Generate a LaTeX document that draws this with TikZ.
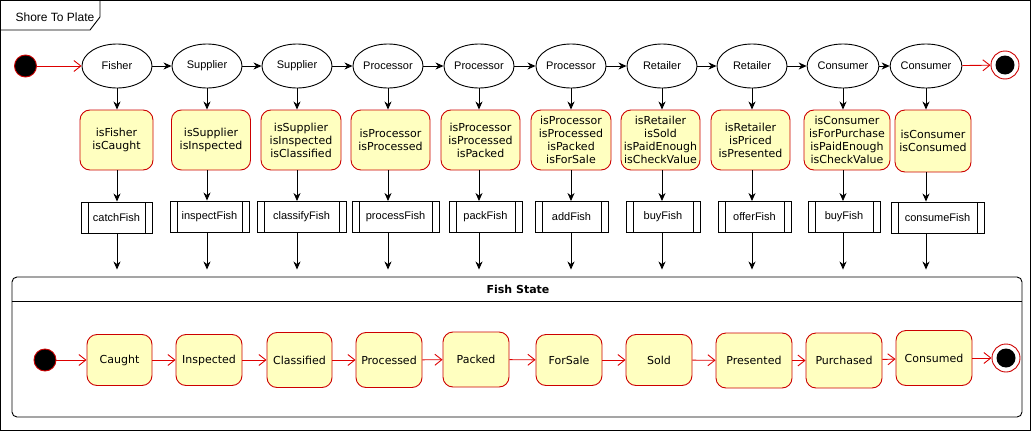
\documentclass[tikz,border=0pt]{standalone}
\usepackage{fontspec}
\setmainfont{Liberation Sans}
\newfontfamily\dvfont{DejaVu Sans}
\usetikzlibrary{shapes.geometric,arrows.meta,calc}
\definecolor{stroke}{HTML}{CC0000}
\definecolor{cfill}{HTML}{FFFFC0}
\definecolor{arrowred}{HTML}{DD0000}
\begin{document}
\begin{tikzpicture}[x=1pt,y=-1pt,line width=0.9pt,
 actor/.style={ellipse,draw,minimum width=70pt,minimum height=44pt,inner sep=0pt,font=\fontsize{11}{13}\selectfont},
 cond/.style={draw=stroke,fill=cfill,rounded corners=10pt,minimum width=79pt,minimum height=60pt,inner sep=1pt,align=center,font=\dvfont\fontsize{11}{13}\selectfont},
 proc/.style={draw,minimum height=31pt,inner sep=0pt,font=\fontsize{11}{13}\selectfont,
   path picture={\draw ([xshift=7pt]path picture bounding box.north west) -- ([xshift=7pt]path picture bounding box.south west)
   ([xshift=-7pt]path picture bounding box.north east) -- ([xshift=-7pt]path picture bounding box.south east);}},
 stnode/.style={draw=stroke,fill=cfill,rounded corners=10pt,minimum width=66pt,minimum height=51pt,inner sep=1pt,font=\dvfont\fontsize{11}{13}\selectfont},
 initn/.style={circle,draw=stroke,fill=black,minimum size=22pt,inner sep=0pt},
 finaln/.style={circle,draw=stroke,fill=white,minimum size=28pt,inner sep=0pt,
   path picture={\fill[black] (path picture bounding box.center) circle (9.5pt);}},
 flow/.style={-{Stealth[length=8pt,width=7pt,inset=2.5pt]}},
 rflow/.style={draw=arrowred,-{Straight Barb[length=7pt,width=11pt]}}]
\useasboundingbox (0,0) rectangle (1031,431);
% outer frame
\draw (0.5,0.5) rectangle (1030.5,430.5);
\draw (0.5,30) -- (90,30) -- (100,17) -- (100,0.5);
\node[font=\fontsize{12}{14}\selectfont,inner sep=0pt] (frametitle) at (55,17) {Shore To Plate};
% top row
\node[initn] (i0) at (25.5,66) {};
\foreach \i/\x/\t in {1/117/Fisher,2/207/Supplier,3/297/Supplier,4/388/Processor,5/479/Processor,6/571/Processor,7/662/Retailer,8/752/Retailer,9/843/Consumer,10/926/Consumer}
  \node[actor] (a\i) at (\x,66) {\t};
\node[finaln] (f0) at (1005,65) {};
% conditions
\node[cond,minimum width=73pt] (c1) at (116.5,140) {isFisher\\isCaught};
\node[cond] (c2) at (211,140) {isSupplier\\isInspected};
\node[cond,minimum width=80pt] (c3) at (301,140) {isSupplier\\isInspected\\isClassified};
\node[cond] (c4) at (390.5,140) {isProcessor\\isProcessed};
\node[cond] (c5) at (480.5,140) {isProcessor\\isProcessed\\isPacked};
\node[cond,minimum width=80pt] (c6) at (571,140) {isProcessor\\isProcessed\\isPacked\\isForSale};
\node[cond] (c7) at (660.5,140) {isRetailer\\isSold\\isPaidEnough\\isCheckValue};
\node[cond] (c8) at (750.5,140) {isRetailer\\isPriced\\isPresented};
\node[cond,minimum width=86pt] (c9) at (847,140) {isConsumer\\isForPurchase\\isPaidEnough\\isCheckValue};
\node[cond,minimum width=76pt,minimum height=62pt] (c10) at (933,141) {isConsumer\\isConsumed};
% processes
\node[proc,minimum width=71pt] (p1) at (116.5,217.5) {catchFish};
\node[proc,minimum width=79pt] (p2) at (209.5,216.5) {inspectFish};
\node[proc,minimum width=89pt] (p3) at (301.5,217) {classifyFish};
\node[proc,minimum width=87pt] (p4) at (395.5,217) {processFish};
\node[proc,minimum width=73pt] (p5) at (485.5,217) {packFish};
\node[proc,minimum width=73pt] (p6) at (571.5,217) {addFish};
\node[proc,minimum width=74pt] (p7) at (663,217) {buyFish};
\node[proc,minimum width=73pt] (p8) at (754.5,217) {offerFish};
\node[proc,minimum width=72pt] (p9) at (844,217) {buyFish};
\node[proc,minimum width=93pt] (p10) at (937.5,217.5) {consumeFish};
% container
\node[draw,rounded corners=5pt,minimum width=1010pt,minimum height=140pt,inner sep=0pt] (fs) at (517,347) {};
\node[font=\dvfont\bfseries\fontsize{11}{13}\selectfont,minimum height=24pt,inner sep=0pt] (fst) at (518,289) {Fish State};
\draw (fs.west |- fst.south) -- (fs.east |- fst.south);
% states
\node[initn] (si) at (45,360) {};
\node[stnode,minimum width=65pt] (s1) at (119.5,360) {Caught};
\node[stnode] (s2) at (209,360) {Inspected};
\node[stnode,minimum width=65pt,minimum height=55pt] (s3) at (299.5,360) {Classified};
\node[stnode,minimum height=55pt] (s4) at (389,360) {Processed};
\node[stnode,minimum height=55pt] (s5) at (476,359.5) {Packed};
\node[stnode] (s6) at (569,360) {ForSale};
\node[stnode] (s7) at (659,360) {Sold};
\node[stnode,minimum width=76pt,minimum height=55pt] (s8) at (754,360.5) {Presented};
\node[stnode,minimum width=76pt,minimum height=55pt] (s9) at (844,360.5) {Purchased};
\node[stnode,minimum width=76pt,minimum height=55pt] (s10) at (934,358) {Consumed};
\node[finaln] (sf) at (1006,358) {};
% connectors top
\draw[rflow] (i0) -- (a1);
\foreach \i/\j in {1/2,2/3,3/4,4/5,5/6,6/7,7/8,8/9,9/10}
  \draw[flow] (a\i) -- (a\j);
\draw[rflow] (a10) -- (f0);
\foreach \i in {1,...,10}{
  \draw[flow] (a\i.south) -- (a\i.south |- c\i.north);
  \draw[flow] (a\i.south |- c\i.south) -- (a\i.south |- p\i.north);
  \draw[flow,shorten >=7pt] (a\i.south |- p\i.south) -- (a\i.south |- fs.north);
}
% connectors states
\draw[rflow] (si) -- (s1);
\foreach \i/\j in {1/2,2/3,3/4,4/5,5/6,6/7,7/8,8/9,9/10}
  \draw[rflow] (s\i) -- (s\j);
\draw[rflow] (s10) -- (sf);
\end{tikzpicture}
\end{document}
